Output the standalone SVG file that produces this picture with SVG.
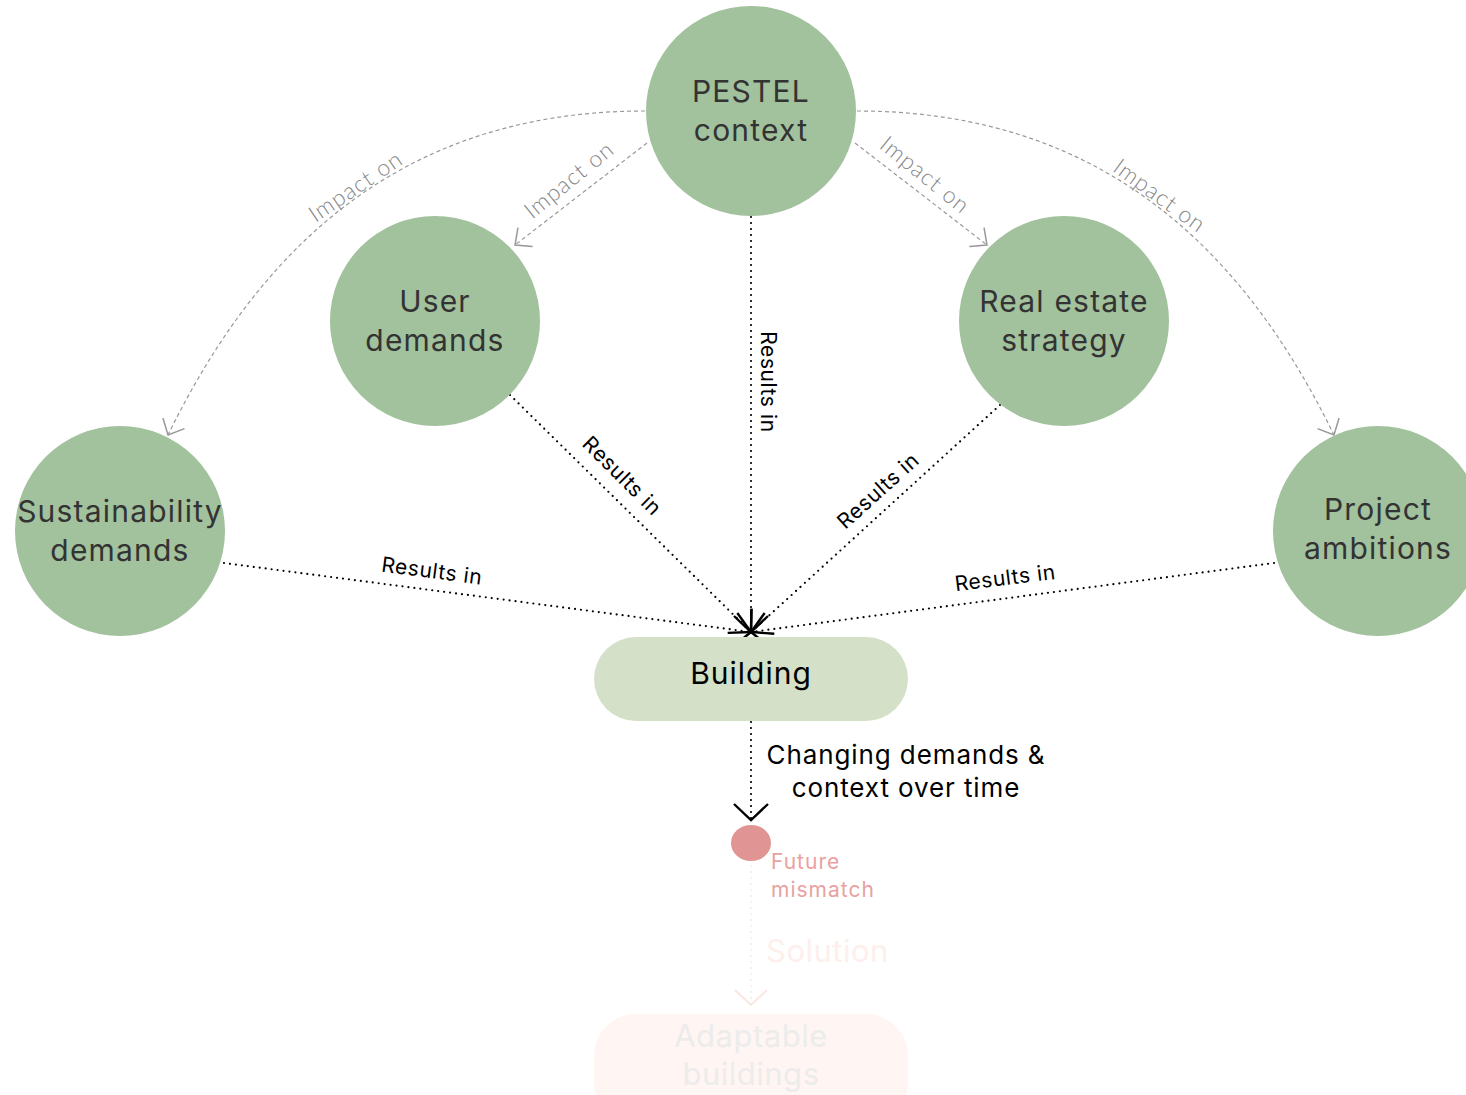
<svg xmlns="http://www.w3.org/2000/svg" width="1466" height="1095" viewBox="0 0 1466 1095">
<defs>
<style>
.node{fill:#a2c19d}
.nt{font-family:Inter,"Liberation Sans",sans-serif;font-size:30px;letter-spacing:1.2px;fill:#333;text-anchor:middle}
.res{fill:none;stroke:#000;stroke-width:2.2;stroke-linecap:round;stroke-dasharray:0 6}
.imp{fill:none;stroke:#999;stroke-width:1.2;stroke-dasharray:4 3}
.rl{font-family:Inter,"Liberation Sans",sans-serif;font-size:21px;letter-spacing:0.6px;fill:#000;text-anchor:middle}
.il{font-family:Lato,"Liberation Sans",sans-serif;font-weight:300;font-size:23px;letter-spacing:1px;fill:#888;text-anchor:middle}
.sf{font-family:Inter,"Liberation Sans",sans-serif}
</style>
<marker id="ab" markerUnits="userSpaceOnUse" markerWidth="40" markerHeight="40" viewBox="-20 -20 40 40" refX="0" refY="0" orient="auto">
<path d="M-16,-17 L0,0 L-16,17" fill="none" stroke="#000" stroke-width="2.4"/>
</marker>
<marker id="ag" markerUnits="userSpaceOnUse" markerWidth="40" markerHeight="40" viewBox="-20 -20 40 40" refX="0" refY="0" orient="auto">
<path d="M-13,-12 L0,0 L-13,12" fill="none" stroke="#999" stroke-width="1.5"/>
</marker>
<marker id="af" markerUnits="userSpaceOnUse" markerWidth="40" markerHeight="40" viewBox="-20 -20 40 40" refX="0" refY="0" orient="auto">
<path d="M-15,-16 L0,0 L-15,16" fill="none" stroke="#fbe6e1" stroke-width="2"/>
</marker>
</defs>
<rect width="1466" height="1095" fill="#fff"/>

<g id="connectors">
<path class="imp" d="M645,111 C395,111 256,255 168,435" marker-end="url(#ag)"/>
<path class="imp" d="M857,111 C1107,111 1246,255 1334,435" marker-end="url(#ag)"/>
<path class="imp" d="M647,143 L515,245" marker-end="url(#ag)"/>
<path class="imp" d="M855,143 L987,245" marker-end="url(#ag)"/>
<text class="il" transform="translate(360,193) rotate(-34)">Impact on</text>
<text class="il" transform="translate(1155,202) rotate(36)">Impact on</text>
<text class="il" transform="translate(574,186) rotate(-39)">Impact on</text>
<text class="il" transform="translate(920,181) rotate(39)">Impact on</text>

<path class="res" d="M751,217 L751,632" marker-end="url(#ab)"/>
<path class="res" d="M510,395 L751,632" marker-end="url(#ab)"/>
<path class="res" d="M1000,405 L751,632" marker-end="url(#ab)"/>
<path class="res" d="M224,563 L751,632" marker-end="url(#ab)"/>
<path class="res" d="M1274,563 L751,632" marker-end="url(#ab)"/>
<text class="rl" transform="translate(761,382) rotate(90)">Results in</text>
<text class="rl" transform="translate(617,481) rotate(45)">Results in</text>
<text class="rl" transform="translate(883,496) rotate(-42)">Results in</text>
<text class="rl" transform="translate(431,578) rotate(7.5)">Results in</text>
<text class="rl" transform="translate(1006,585) rotate(-7)">Results in</text>

<path class="res" d="M751,722 L751,820" marker-end="url(#ab)"/>
<text class="sf" font-size="26" letter-spacing="0.9" fill="#000" text-anchor="middle"><tspan x="906" y="764">Changing demands &amp;</tspan><tspan x="906" y="797">context over time</tspan></text>

<path d="M751,866 L751,1005" fill="none" stroke="#eeeeee" stroke-width="2" stroke-linecap="round" stroke-dasharray="0 6" marker-end="url(#af)"/>
<text class="sf" x="766" y="962" font-size="31" letter-spacing="0.5" fill="#fdf0ec">Solution</text>
</g>

<g id="pestel"><circle class="node" cx="751" cy="111" r="105"/><text class="nt"><tspan x="751" y="102">PESTEL</tspan><tspan x="751" y="141">context</tspan></text></g>
<g id="user"><circle class="node" cx="435" cy="321" r="105"/><text class="nt"><tspan x="435" y="312">User</tspan><tspan x="435" y="351">demands</tspan></text></g>
<g id="realestate"><circle class="node" cx="1064" cy="321" r="105"/><text class="nt"><tspan x="1064" y="312">Real estate</tspan><tspan x="1064" y="351">strategy</tspan></text></g>
<g id="sustainability"><circle class="node" cx="120" cy="531" r="105"/><text class="nt"><tspan x="120" y="522">Sustainability</tspan><tspan x="120" y="561">demands</tspan></text></g>
<g id="project"><circle class="node" cx="1378" cy="531" r="105"/><text class="nt"><tspan x="1378" y="520">Project</tspan><tspan x="1378" y="559">ambitions</tspan></text></g>

<g id="building"><rect x="594" y="637" width="314" height="84" rx="42" fill="#d4e1c8"/><text class="sf" x="751" y="684" font-size="30" letter-spacing="1" fill="#000" text-anchor="middle">Building</text></g>

<g id="mismatch"><ellipse cx="751" cy="843" rx="20" ry="18" fill="#e09494"/><text class="sf" font-size="21" letter-spacing="1" fill="#e9a1a1"><tspan x="771" y="869">Future</tspan><tspan x="771" y="897">mismatch</tspan></text></g>

<g id="adaptable"><rect x="594" y="1014" width="314" height="110" rx="42" fill="#fff5f2"/><text class="sf" font-size="31" letter-spacing="0.5" fill="#ececec" text-anchor="middle"><tspan x="751" y="1047">Adaptable</tspan><tspan x="751" y="1085">buildings</tspan></text></g>
</svg>
